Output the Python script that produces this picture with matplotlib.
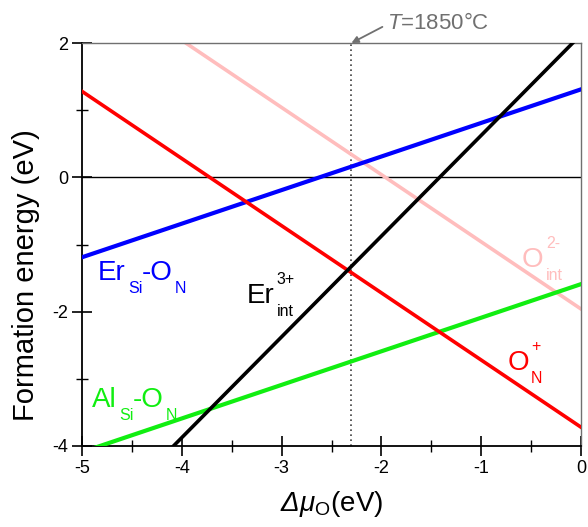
import numpy as np
import matplotlib
matplotlib.use("Agg")
import matplotlib.pyplot as plt

plt.rcParams['font.family'] = ['Liberation Sans', 'DejaVu Sans']
plt.rcParams['mathtext.fontset'] = 'custom'
plt.rcParams['mathtext.rm'] = 'Liberation Sans'
plt.rcParams['mathtext.it'] = 'Liberation Sans:italic'
plt.rcParams['mathtext.sf'] = 'Liberation Sans:italic'
plt.rcParams['axes.unicode_minus'] = False

# Data: formation energy lines (endpoints)
mu_O = [-5.0, 0.0]
er_si_on = [-1.19, 1.31]      # Er_Si-O_N
al_si_on = [-4.09, -1.59]     # Al_Si-O_N
o_n_plus = [1.28, -3.72]      # O_N^+
o_int_2m = [3.04, -1.96]      # O_int^2-
er_int_3p = [-5.375, 2.125]   # Er_int^3+
t_line_x = -2.3
x_ticks = [-5, -4, -3, -2, -1, 0]
x_minor = [-4.5, -3.5, -2.5, -1.5, -0.5]
y_ticks = [-4, -2, 0, 2]
y_minor = [-3, -1, 1]
annot_text = r'$\mathit{T}$=1850°C'

fig = plt.figure(figsize=(5.88, 5.27), dpi=100)
ax = fig.add_axes([82/588, 1 - 446/527, (581-82)/588, (446-43)/527])

ax.axhline(0, color='black', lw=1.0, zorder=1)
ax.axvline(t_line_x, color='#404040', lw=1.2, ls=(0, (1, 2)), zorder=1)

ax.plot(mu_O, o_int_2m, color='#ffbdbd', lw=2.6, zorder=2)
ax.plot(mu_O, er_si_on, color='#0000ff', lw=3.0, zorder=3)
ax.plot(mu_O, al_si_on, color='#11ee11', lw=3.0, zorder=3)
ax.plot(mu_O, o_n_plus, color='#ff0000', lw=2.6, zorder=4)
ax.plot(mu_O, er_int_3p, color='black', lw=2.6, zorder=5)

ax.set_xlim(-5, 0)
ax.set_ylim(-4, 2)
ax.set_xticks(x_ticks)
ax.set_xticks(x_minor, minor=True)
ax.set_yticks(y_ticks)
ax.set_yticks(y_minor, minor=True)
ax.tick_params(which='major', direction='inout', length=14, width=1.2, labelsize=13,
               top=False, right=False, pad=3)
ax.tick_params(which='minor', direction='inout', length=8, width=1.0,
               top=False, right=False)

for s in ['left', 'bottom']:
    ax.spines[s].set_linewidth(1.3)
    ax.spines[s].set_color('black')
for s in ['top', 'right']:
    ax.spines[s].set_linewidth(1.0)
    ax.spines[s].set_color('#707070')

ax.set_xlabel(r'$\mathsf{\Delta\mu}_\mathrm{O}$(eV)', fontsize=20, labelpad=9)
ax.set_ylabel('Formation energy (eV)', fontsize=21)
ax.yaxis.set_label_coords(-0.085, 0.425)

renderer = fig.canvas.get_renderer()
MAIN_FS = 20
SMALL_FS = 11.5


def rich_label(x, y, segments, color):
    dx = 0.0
    for main, sub, sup in segments:
        t = ax.annotate(main, (x, y), xytext=(dx, 0), textcoords='offset points',
                        fontsize=MAIN_FS, color=color, va='baseline', ha='left')
        dx += t.get_window_extent(renderer).width * 72 / fig.dpi
        widths = [0.0]
        if sub:
            t = ax.annotate(sub, (x, y), xytext=(dx + 1.5, -9.5), textcoords='offset points',
                            fontsize=SMALL_FS, color=color, va='baseline', ha='left')
            widths.append(t.get_window_extent(renderer).width * 72 / fig.dpi)
        if sup:
            t = ax.annotate(sup, (x, y), xytext=(dx + 1.5, 13.5), textcoords='offset points',
                            fontsize=SMALL_FS, color=color, va='baseline', ha='left')
            widths.append(t.get_window_extent(renderer).width * 72 / fig.dpi)
        dx += max(widths) + 1.0


rich_label(-4.84, -1.53, [('Er', 'Si', None), ('-O', 'N', None)], '#0000ff')
rich_label(-4.9, -3.42, [('Al', 'Si', None), ('-O', 'N', None)], '#11ee11')
rich_label(-3.35, -1.87, [('Er', 'int', '3+')], 'black')
rich_label(-0.74, -2.87, [('O', 'N', '+')], '#ff0000')
rich_label(-0.59, -1.33, [('O', 'int', '2-')], '#ffbdbd')

ax.text(-1.944, 2.204, annot_text, color='#707070', fontsize=16, va='baseline', ha='left',
        clip_on=False)
ax.annotate('', xy=(t_line_x, 2.0), xytext=(-1.99, 2.24),
            arrowprops=dict(arrowstyle='-|>', color='#707070', lw=1.3,
                            mutation_scale=10, shrinkA=0, shrinkB=0),
            annotation_clip=False)

fig.savefig('out.png', dpi=100)
